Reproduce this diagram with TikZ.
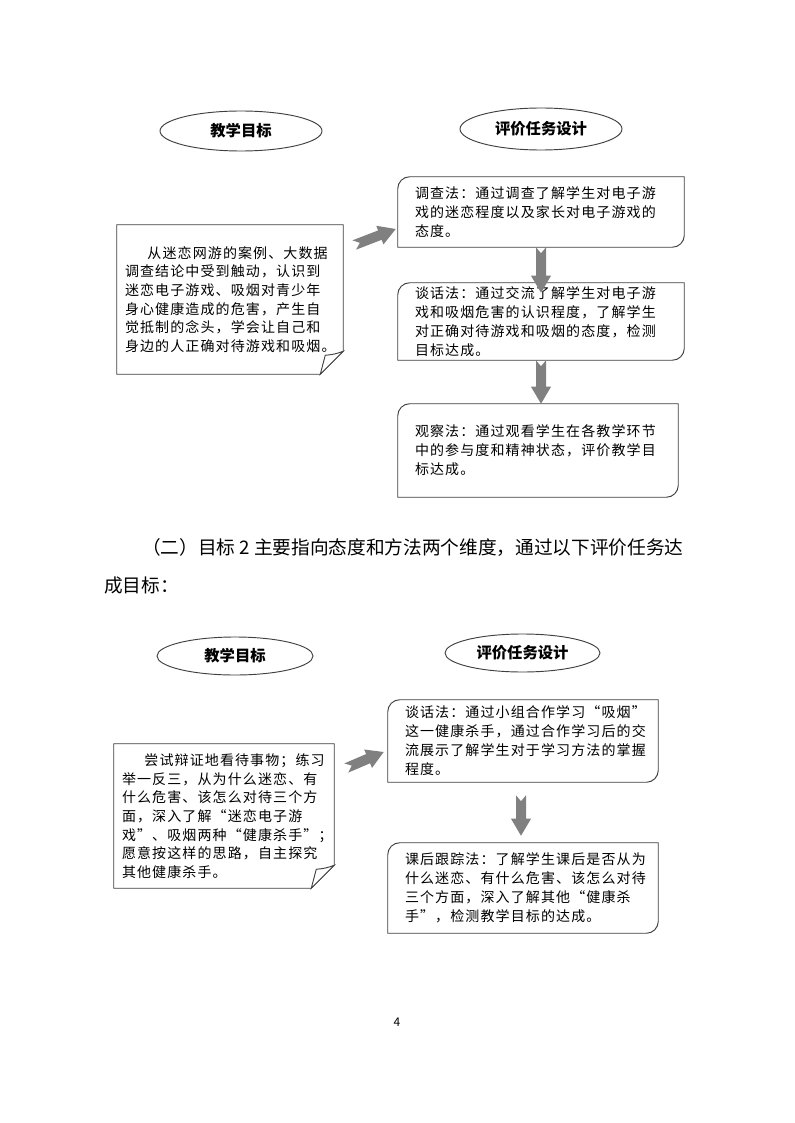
\documentclass[tikz,border=0pt]{standalone}
\usepackage{fontspec}
\setmainfont{Noto Sans CJK SC}
\newfontfamily\cjk{Noto Sans CJK SC}
\newfontfamily\cjksp[LetterSpace=8]{Noto Sans CJK SC}
\usetikzlibrary{shapes.geometric,calc}
\pgfdeclarelayer{background}
\pgfsetlayers{background,main}
\definecolor{arrowgray}{RGB}{128,128,128}
\definecolor{linegray}{RGB}{64,64,64}
\tikzset{
 ovalbox/.style={ellipse, draw=linegray, line width=0.7pt, inner sep=0pt, font=\cjk\bfseries\fontsize{11.5}{14}\selectfont},
 taskbox/.style={rectangle, inner xsep=12.75pt, inner ysep=0pt, align=left, font=\cjksp\fontsize{10.5}{14.2}\selectfont},
 notebox/.style={rectangle, inner xsep=6pt, inner ysep=0pt, align=left, font=\cjksp\fontsize{10.5}{14}\selectfont},
 boxline/.style={draw=linegray, line width=0.7pt},
 arrowfill/.style={fill=arrowgray},
 bodytext/.style={inner sep=0pt, font=\cjk\fontsize{14}{18}\selectfont},
}
\newcommand\blockarrow[2]{%
  \fill[arrowfill] let \p1=($(#2)-(#1)$), \n1={atan2(\y1,\x1)}, \n2={veclen(\x1,\y1)} in
   [shift={(#1)}, rotate=\n1]
   (0pt,3.75pt) -- ({\n2-12.75pt},3.75pt) -- ({\n2-12.75pt},7.5pt) -- (\n2,0pt)
   -- ({\n2-12.75pt},-7.5pt) -- ({\n2-12.75pt},-3.75pt) -- (0pt,-3.75pt) -- (4.5pt,0pt) -- cycle;
}
\newcommand\diagoutline[1]{%
  \draw[boxline, fill=white] (#1.north east) -- ([xshift=9pt]#1.north west)
    arc[start angle=90,end angle=180,radius=9pt] -- (#1.south west)
    -- ([xshift=-9pt]#1.south east) arc[start angle=270,end angle=360,radius=9pt] -- cycle;
}
\newcommand\noteoutline[1]{%
  \draw[boxline, fill=white] (#1.north west) -- (#1.north east) -- ([yshift=17.25pt]#1.south east)
    -- ([xshift=-17.25pt]#1.south east) -- (#1.south west) -- cycle;
  \draw[boxline, fill=white] ([yshift=17.25pt]#1.south east) to[bend left=8] ([xshift=-13.5pt,yshift=14.25pt]#1.south east)
    -- ([xshift=-17.25pt]#1.south east) -- cycle;
}
\begin{document}
\begin{tikzpicture}[x=0.75pt,y=-0.75pt]
\useasboundingbox (0,0) rectangle (794,1123);
\begin{pgfonlayer}{background}
\fill[white] (0,0) rectangle (794,1123);
\end{pgfonlayer}

% ---------- section 1 ----------
\node[ovalbox, minimum width=121.5pt, minimum height=30pt] (E1) at (241,131) {教学目标};
\node[ovalbox, minimum width=121.5pt, minimum height=31.5pt] (E2) at (541,129) {评价任务设计};

\node[taskbox, text width=189pt, minimum height=52.5pt] (B1) at (541,212)
 {调查法：通过调查了解学生对电子游\\戏的迷恋程度以及家长对电子游戏的\\态度。};
\node[taskbox, text width=189pt, minimum height=57.75pt] (B2) at (541,321.5)
 {谈话法：通过交流了解学生对电子游\\戏和吸烟危害的认识程度，了解学生\\对正确对待游戏和吸烟的态度，检测\\目标达成。};
\node[taskbox, text width=184.5pt, minimum height=69.75pt] (B3) at (538,450.5)
 {观察法：通过观看学生在各教学环节\\中的参与度和精神状态，评价教学目\\标达成。};
\node[notebox, text width=157.5pt, minimum height=111.75pt] (L1) at (230,299.5)
 {\hspace*{1.6em}从迷恋网游的案例、大数据\\调查结论中受到触动，认识到\\迷恋电子游戏、吸烟对青少年\\身心健康造成的危害，产生自\\觉抵制的念头，学会让自己和\\身边的人正确对待游戏和吸烟。};

\begin{pgfonlayer}{background}
\diagoutline{B1}
\diagoutline{B2}
\diagoutline{B3}
\noteoutline{L1}
\end{pgfonlayer}

\coordinate (a1s) at ($(L1.east)+(11,-54.5)$);
\coordinate (a1e) at ($(B1.west)+(-2,17)$);
\blockarrow{a1s}{a1e}
\coordinate (a2s) at (B1.south);
\coordinate (a2e) at ($(B2.north)+(0,10)$);
\blockarrow{a2s}{a2e}
\coordinate (a3s) at (B2.south);
\coordinate (a3e) at (B2.south |- B3.north);
\blockarrow{a3s}{a3e}

% ---------- paragraph ----------
\node[bodytext, anchor=west] (P1) at (142,548) {（二）目标 2 主要指向态度和方法两个维度，通过以下评价任务达};
\node[bodytext, anchor=west] (P2) at (104,585) {成目标：};

% ---------- section 2 ----------
\node[ovalbox, minimum width=117pt, minimum height=28.5pt] (E3) at (235,656) {教学目标};
\node[ovalbox, minimum width=116.25pt, minimum height=28.5pt] (E4) at (522.5,653) {评价任务设计};

\node[taskbox, text width=177pt, minimum height=61.5pt] (B4) at (523,741)
 {谈话法：通过小组合作学习“吸烟”\\这一健康杀手，通过合作学习后的交\\流展示了解学生对于学习方法的掌握\\程度。};
\node[taskbox, text width=177pt, minimum height=67.5pt] (B5) at (523,888)
 {课后跟踪法：了解学生课后是否从为\\什么迷恋、有什么危害、该怎么对待\\三个方面，深入了解其他“健康杀\\手”，检测教学目标的达成。};
\node[notebox, text width=153pt, minimum height=108pt] (L2) at (224,816)
 {\hspace*{1.6em}尝试辩证地看待事物；练习\\举一反三，从为什么迷恋、有\\什么危害、该怎么对待三个方\\面，深入了解“迷恋电子游\\戏”、吸烟两种“健康杀手”；\\愿意按这样的思路，自主探究\\其他健康杀手。};

\begin{pgfonlayer}{background}
\diagoutline{B4}
\diagoutline{B5}
\noteoutline{L2}
\end{pgfonlayer}

\coordinate (a4s) at ($(L2.east)+(12,-48)$);
\coordinate (a4e) at ($(B4.west)+(-4,11)$);
\blockarrow{a4s}{a4e}
\coordinate (a5s) at ($(B4.south)+(-2,13)$);
\coordinate (a5e) at ($(B5.north)+(-2,-7)$);
\blockarrow{a5s}{a5e}

\node[inner sep=0pt, font=\fontsize{9}{11}\selectfont] (pg) at (397,1022) {4};
\end{tikzpicture}
\end{document}
